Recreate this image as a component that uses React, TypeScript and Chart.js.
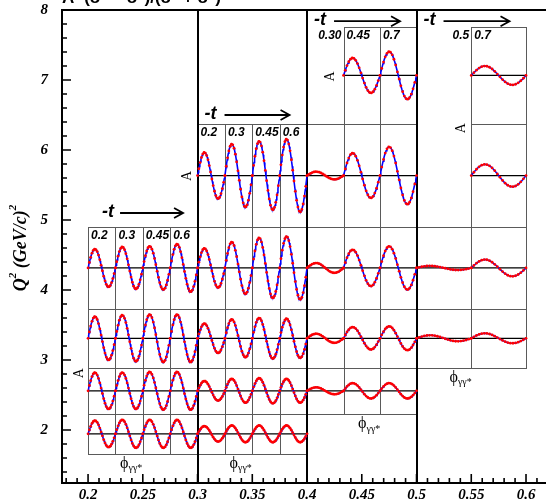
import React, { useEffect, useRef } from 'react';
import { Chart, registerables } from 'chart.js';

Chart.register(...registerables);

// ---------------- data ----------------
const xTickValues = [0.2, 0.25, 0.3, 0.35, 0.4, 0.45, 0.5, 0.55, 0.6];
const xTickLabels = ['0.2', '0.25', '0.3', '0.35', '0.4', '0.45', '0.5', '0.55', '0.6'];
const yTickValues = [2, 3, 4, 5, 6, 7, 8];
const yTickLabels = ['2', '3', '4', '5', '6', '7', '8'];

// Q² bin edges of the cell rows (row i spans edges[i]..edges[i+1])
const q2RowEdges = [1.66, 2.23, 2.89, 3.73, 4.9, 6.37, 7.76];

// x_B bins of the four panels
const xbBins = [
  [0.2, 0.3],
  [0.3, 0.4],
  [0.4, 0.5],
  [0.5, 0.6],
];
const groupSeparators = [0.3, 0.4, 0.5];

// -t bins of each panel
const tBinsXb1 = ['0.2', '0.3', '0.45', '0.6'];
const tBinsXb2 = ['0.2', '0.3', '0.45', '0.6'];
const tBinsXb3 = ['0.30', '0.45', '0.7'];
const tBinsXb4 = ['0.5', '0.7'];

// sin(phi) amplitude of A per Q² row (bottom -> top) and -t column; null = no bin
const ampXb1 = [
  [0.19, 0.2, 0.2, 0.2],
  [0.26, 0.26, 0.27, 0.27],
  [0.31, 0.33, 0.34, 0.34],
  [0.27, 0.3, 0.31, 0.34],
  [null, null, null, null],
  [null, null, null, null],
];
const ampXb2 = [
  [0.11, 0.12, 0.12, 0.12],
  [0.14, 0.17, 0.18, 0.17],
  [0.21, 0.27, 0.29, 0.28],
  [0.28, 0.37, 0.43, 0.45],
  [0.33, 0.45, 0.49, 0.52],
  [null, null, null, null],
];
const ampXb3 = [
  [null, null, null],
  [0.05, 0.11, 0.11],
  [0.065, 0.16, 0.17],
  [0.07, 0.26, 0.31],
  [0.055, 0.32, 0.41],
  [null, 0.25, 0.34],
];
const ampXb4 = [
  [null, null],
  [null, null],
  [0.043, 0.071],
  [0.03, 0.12],
  [null, 0.16],
  [null, 0.135],
];

// ---------------- layout (not data) ----------------
const W = 546;
const H = 501;
const SERIF = '"Liberation Serif", "Times New Roman", serif';
const SANS = '"Liberation Sans", Arial, sans-serif';

const groups = [
  { bin: xbBins[0], t: tBinsXb1, amp: ampXb1 },
  { bin: xbBins[1], t: tBinsXb2, amp: ampXb2 },
  { bin: xbBins[2], t: tBinsXb3, amp: ampXb3 },
  { bin: xbBins[3], t: tBinsXb4, amp: ampXb4 },
];

// annotation placement: x anchor (data) + pixel offsets, y in Q² units
const tArrowPlace = [
  { x: 0.2, q2: 5.1, dxT: 14, dx1: 32, dx2: 95 },
  { x: 0.3, q2: 6.5, dxT: 7, dx1: 27, dx2: 92 },
  { x: 0.4, q2: 7.84, dxT: 7, dx1: 27, dx2: 93 },
  { x: 0.5, q2: 7.84, dxT: 7, dx1: 27, dx2: 93 },
];
const aLabelPlace = [
  { x: 0.2, dx: -9, q2: 2.81 },
  { x: 0.3, dx: -10, q2: 5.63 },
  { x: 0.4 + 0.1 / 3, dx: -13, q2: 7.05 },
  { x: 0.55, dx: -10, q2: 6.31 },
];
const phiLabelPlace = [
  { x: 0.2, dx: 32 },
  { x: 0.3, dx: 32 },
  { x: 0.4, dx: 51 },
  { x: 0.5, dx: 33 },
];

type Cell = { g: number; col: number; row: number; x0: number; x1: number; q0: number; q1: number; amp: number };

function buildCells(): Cell[] {
  const cells: Cell[] = [];
  groups.forEach((g, gi) => {
    const [x0, x1] = g.bin;
    const n = g.t.length;
    const w = (x1 - x0) / n;
    g.amp.forEach((row, ri) =>
      row.forEach((a, ci) => {
        if (a === null || a === undefined) return;
        cells.push({
          g: gi,
          col: ci,
          row: ri,
          x0: x0 + ci * w,
          x1: x0 + (ci + 1) * w,
          q0: q2RowEdges[ri],
          q1: q2RowEdges[ri + 1],
          amp: a as number,
        });
      })
    );
  });
  return cells;
}

const NLINE = 48;
const NDOT = 22;

function buildDatasets(cells: Cell[]) {
  const blue: any[] = [];
  const red: any[] = [];
  const zero: any[] = [];
  for (const c of cells) {
    const mid = (c.q0 + c.q1) / 2;
    const dx = c.x1 - c.x0;
    for (let k = 0; k <= NLINE; k++) {
      const f = k / NLINE;
      blue.push({ x: c.x0 + f * dx, y: mid + c.amp * Math.sin(2 * Math.PI * f) });
    }
    blue.push({ x: c.x1, y: null });
    for (let k = 0; k < NDOT; k++) {
      const f = k / (NDOT - 1);
      red.push({ x: c.x0 + f * dx, y: mid + c.amp * Math.sin(2 * Math.PI * f) });
    }
    zero.push({ x: c.x0, y: mid }, { x: c.x1, y: mid }, { x: c.x1, y: null });
  }
  return [
    {
      data: zero,
      showLine: true,
      pointRadius: 0,
      borderColor: '#000000',
      borderWidth: 1.3,
      order: 3,
    },
    {
      data: blue,
      showLine: true,
      pointRadius: 0,
      borderColor: '#0000ff',
      borderWidth: 1.6,
      tension: 0,
      order: 2,
    },
    {
      data: red,
      showLine: false,
      pointRadius: 1.4,
      pointBorderWidth: 0,
      backgroundColor: '#ff0000',
      borderColor: '#ff0000',
      order: 1,
    },
  ];
}

function drawArrow(ctx: CanvasRenderingContext2D, x1: number, x2: number, y: number) {
  ctx.beginPath();
  ctx.moveTo(x1, y);
  ctx.lineTo(x2, y);
  ctx.moveTo(x2 - 9, y - 5);
  ctx.lineTo(x2, y);
  ctx.lineTo(x2 - 9, y + 5);
  ctx.stroke();
}

function makeDecor(cells: Cell[]) {
  return {
    id: 'decor',
    beforeDatasetsDraw(chart: any) {
      const { ctx, scales, chartArea: ca } = chart;
      const X = (v: number) => scales.x.getPixelForValue(v);
      const Y = (v: number) => scales.y.getPixelForValue(v);
      ctx.save();
      ctx.strokeStyle = '#5a5a5a';
      ctx.lineWidth = 1;
      for (const c of cells) {
        const l = Math.round(X(c.x0));
        const r = Math.round(X(c.x1));
        const t = Math.round(Y(c.q1));
        const b = Math.round(Y(c.q0));
        ctx.strokeRect(l + 0.5, t + 0.5, r - l, b - t);
      }
      ctx.strokeStyle = '#000';
      ctx.lineWidth = 2;
      for (const s of groupSeparators) {
        const px = Math.round(X(s));
        ctx.beginPath();
        ctx.moveTo(px, ca.top);
        ctx.lineTo(px, ca.bottom);
        ctx.stroke();
      }
      ctx.restore();
    },
    afterDraw(chart: any) {
      const { ctx, scales, chartArea: ca } = chart;
      const X = (v: number) => scales.x.getPixelForValue(v);
      const Y = (v: number) => scales.y.getPixelForValue(v);
      ctx.save();
      // frame
      ctx.strokeStyle = '#000';
      ctx.lineWidth = 2;
      ctx.beginPath();
      ctx.moveTo(chart.width + 2, ca.top);
      ctx.lineTo(ca.left, ca.top);
      ctx.lineTo(ca.left, ca.bottom);
      ctx.lineTo(chart.width + 2, ca.bottom);
      ctx.stroke();
      // ticks
      ctx.lineWidth = 1.6;
      ctx.beginPath();
      for (let k = 18; k <= 61; k++) {
        const px = X(k / 100);
        if (px < ca.left + 1 || px > chart.width) continue;
        const len = k % 5 === 0 ? 9 : 5;
        ctx.moveTo(px, ca.bottom);
        ctx.lineTo(px, ca.bottom - len);
      }
      for (let k = 7; k <= 40; k++) {
        const py = Y(k * 0.2);
        if (py > ca.bottom - 1 || py < ca.top) continue;
        const len = k % 5 === 0 ? 9 : 5;
        ctx.moveTo(ca.left, py);
        ctx.lineTo(ca.left + len, py);
      }
      ctx.stroke();

      // title (cut at top)
      ctx.fillStyle = '#000';
      ctx.font = `bold 17px ${SANS}`;
      ctx.textAlign = 'left';
      ctx.textBaseline = 'alphabetic';
      ctx.fillText('A=(σ⁺ − σ⁻)/(σ⁺ + σ⁻)', ca.left, 3);

      // y axis title
      ctx.save();
      ctx.translate(20, 248);
      ctx.rotate(-Math.PI / 2);
      const big = `bold italic 18px ${SERIF}`;
      const small = `bold italic 11px ${SERIF}`;
      const parts: [string, string, number][] = [
        ['Q', big, 0],
        ['2', small, -8],
        [' (GeV/c)', big, 0],
        ['2', small, -8],
      ];
      let total = 0;
      for (const [s, f] of parts) {
        ctx.font = f;
        total += ctx.measureText(s).width;
      }
      let cx = -total / 2;
      ctx.textBaseline = 'middle';
      for (const [s, f, dy] of parts) {
        ctx.font = f;
        ctx.fillText(s, cx, dy + 1);
        cx += ctx.measureText(s).width;
      }
      ctx.restore();

      ctx.strokeStyle = '#000';
      ctx.lineWidth = 1.8;
      groups.forEach((g, gi) => {
        const gc = cells.filter((c) => c.g === gi);
        const topQ = Math.max(...gc.map((c) => c.q1));
        const botQ = Math.min(...gc.map((c) => c.q0));
        // -t arrows
        const ap = tArrowPlace[gi];
        const ax = X(ap.x);
        const ay = Y(ap.q2);
        ctx.font = `bold italic 18px ${SANS}`;
        ctx.textAlign = 'left';
        ctx.textBaseline = 'middle';
        ctx.fillText('-t', ax + ap.dxT, ay - 1);
        drawArrow(ctx, ax + ap.dx1, ax + ap.dx2, ay);

        // t bin labels
        ctx.font = `bold italic 12px ${SANS}`;
        ctx.textBaseline = 'alphabetic';
        const n = g.t.length;
        const w = (g.bin[1] - g.bin[0]) / n;
        const ty = Y(topQ) + 12;
        g.t.forEach((lab, ci) => {
          const colCells = gc.filter((c) => c.col === ci);
          const colTop = Math.max(...colCells.map((c) => c.q1));
          const l = X(g.bin[0] + ci * w);
          const r = X(g.bin[0] + (ci + 1) * w);
          if (colTop < topQ - 1e-6) {
            ctx.textAlign = 'right';
            ctx.fillText(lab, r - 2, ty);
          } else {
            ctx.textAlign = 'left';
            ctx.fillText(lab, l + 3, ty);
          }
        });

        // A label
        const al = aLabelPlace[gi];
        ctx.save();
        ctx.translate(X(al.x) + al.dx, Y(al.q2));
        ctx.rotate(-Math.PI / 2);
        ctx.font = `14px ${SERIF}`;
        ctx.textAlign = 'center';
        ctx.textBaseline = 'middle';
        ctx.fillText('A', 0, 0);
        ctx.restore();

        // phi label
        const pl = phiLabelPlace[gi];
        const px = X(pl.x) + pl.dx;
        const py = Y(botQ) + 10;
        ctx.textAlign = 'left';
        ctx.textBaseline = 'middle';
        ctx.font = `16px ${SERIF}`;
        ctx.fillText('ϕ', px, py);
        const pw = ctx.measureText('ϕ').width;
        ctx.font = `10px ${SERIF}`;
        ctx.fillText('γγ*', px + pw, py + 5);
      });
      ctx.restore();
    },
  };
}

function zeroPadding(s: any) {
  s.paddingTop = 0;
  s.paddingBottom = 0;
  s.paddingLeft = 0;
  s.paddingRight = 0;
}

export default function App() {
  const ref = useRef<HTMLCanvasElement>(null);
  useEffect(() => {
    const canvas = ref.current;
    if (!canvas) return;
    const cells = buildCells();
    const tickFont = { family: SERIF, size: 15, style: 'italic' as const, weight: 'bold' as const };
    const chart = new Chart(canvas, {
      type: 'scatter',
      data: { datasets: buildDatasets(cells) as any },
      plugins: [makeDecor(cells) as any],
      options: {
        animation: false,
        responsive: false,
        devicePixelRatio: 1,
        events: [],
        layout: { padding: { top: 10, right: 0, left: 0, bottom: 0 } },
        plugins: {
          legend: { display: false },
          tooltip: { enabled: false },
          title: { display: false },
        },
        scales: {
          x: {
            type: 'linear',
            min: 0.1762,
            max: 0.6146,
            grid: { display: false, drawTicks: false },
            border: { display: false },
            afterBuildTicks: (s: any) => {
              s.ticks = xTickValues.map((v) => ({ value: v }));
            },
            afterFit: (s: any) => {
              s.height = 18;
              zeroPadding(s);
            },
            ticks: {
              autoSkip: false,
              maxRotation: 0,
              minRotation: 0,
              padding: 3,
              color: '#000',
              font: tickFont,
              callback: (_v: any, i: number) => xTickLabels[i],
            },
          },
          y: {
            type: 'linear',
            min: 1.243,
            max: 8,
            grid: { display: false, drawTicks: false },
            border: { display: false },
            afterBuildTicks: (s: any) => {
              s.ticks = yTickValues.map((v) => ({ value: v }));
            },
            afterFit: (s: any) => {
              s.width = 62;
              zeroPadding(s);
            },
            ticks: {
              autoSkip: false,
              padding: 14,
              color: '#000',
              font: tickFont,
              callback: (_v: any, i: number) => yTickLabels[i],
            },
          },
        },
      } as any,
    });
    return () => chart.destroy();
  }, []);
  return (
    <div style={{ position: 'fixed', left: 0, top: 0, width: W, height: H, background: '#fff', overflow: 'hidden' }}>
      <canvas ref={ref} width={W} height={H} style={{ display: 'block' }} />
    </div>
  );
}
